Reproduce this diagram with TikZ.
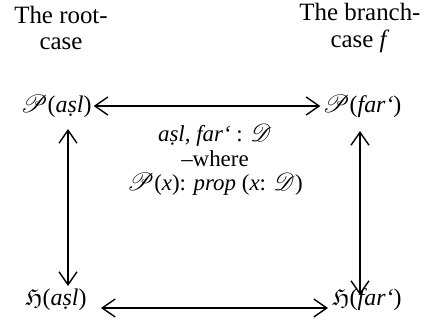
\documentclass[tikz,border=0pt]{standalone}
\usepackage{amssymb}
\usepackage{mathrsfs}
\usepackage{fontspec}
\setmainfont{Liberation Serif}
\usetikzlibrary{arrows.meta}
\tikzset{
  lbl/.style={font=\rmfamily\fontsize{25}{27}\selectfont, align=center, inner sep=1bp},
  term/.style={font=\rmfamily\fontsize{24}{26}\selectfont, inner sep=2bp},
  mid/.style={font=\rmfamily\fontsize{23}{24.5}\selectfont, align=center, inner sep=0bp},
  arr/.style={line width=1.4bp, {Straight Barb[length=13bp,width=18bp]}-{Straight Barb[length=13bp,width=18bp]}}
}
\newcommand{\Pbig}{\ensuremath{\mathscr{P}}}
\newcommand{\Hbig}{\ensuremath{\mathfrak{H}}}
\begin{document}
\begin{tikzpicture}[x=1bp,y=-1bp]
\useasboundingbox (0,0) rectangle (430,322);
\node[lbl] (root) at (61,28) {The root-\\case};
\node[lbl] (branch) at (360,28) {The branch-\\case \textit{f}};
\node[term] (pa) at (56,106) {\Pbig(\textit{aṣl})};
\node[term] (pf) at (362,106) {\Pbig(\textit{far‘})};
\node[term] (ha) at (56,300) {\Hbig(\textit{aṣl})};
\node[term] (hf) at (367,300) {\Hbig(\textit{far‘})};
\node[mid] (note) at (215,160) {\textit{aṣl, far‘} : $\mathscr{D}$\\–where\\$\mathscr{P}$(\textit{x}): \textit{prop} (\textit{x}: $\mathscr{D}$)};
\coordinate (pas) at (68,129);
\coordinate (has) at (68,286);
\coordinate (pfs) at (360,131);
\coordinate (hfs) at (360,295);
\coordinate (bl) at (101,308);
\coordinate (br) at (328,308);
\draw[arr] (pa) -- (pf);
\draw[arr] (pas) -- (has);
\draw[arr] (pfs) -- (hfs);
\draw[arr] (bl) -- (br);
\end{tikzpicture}
\end{document}
